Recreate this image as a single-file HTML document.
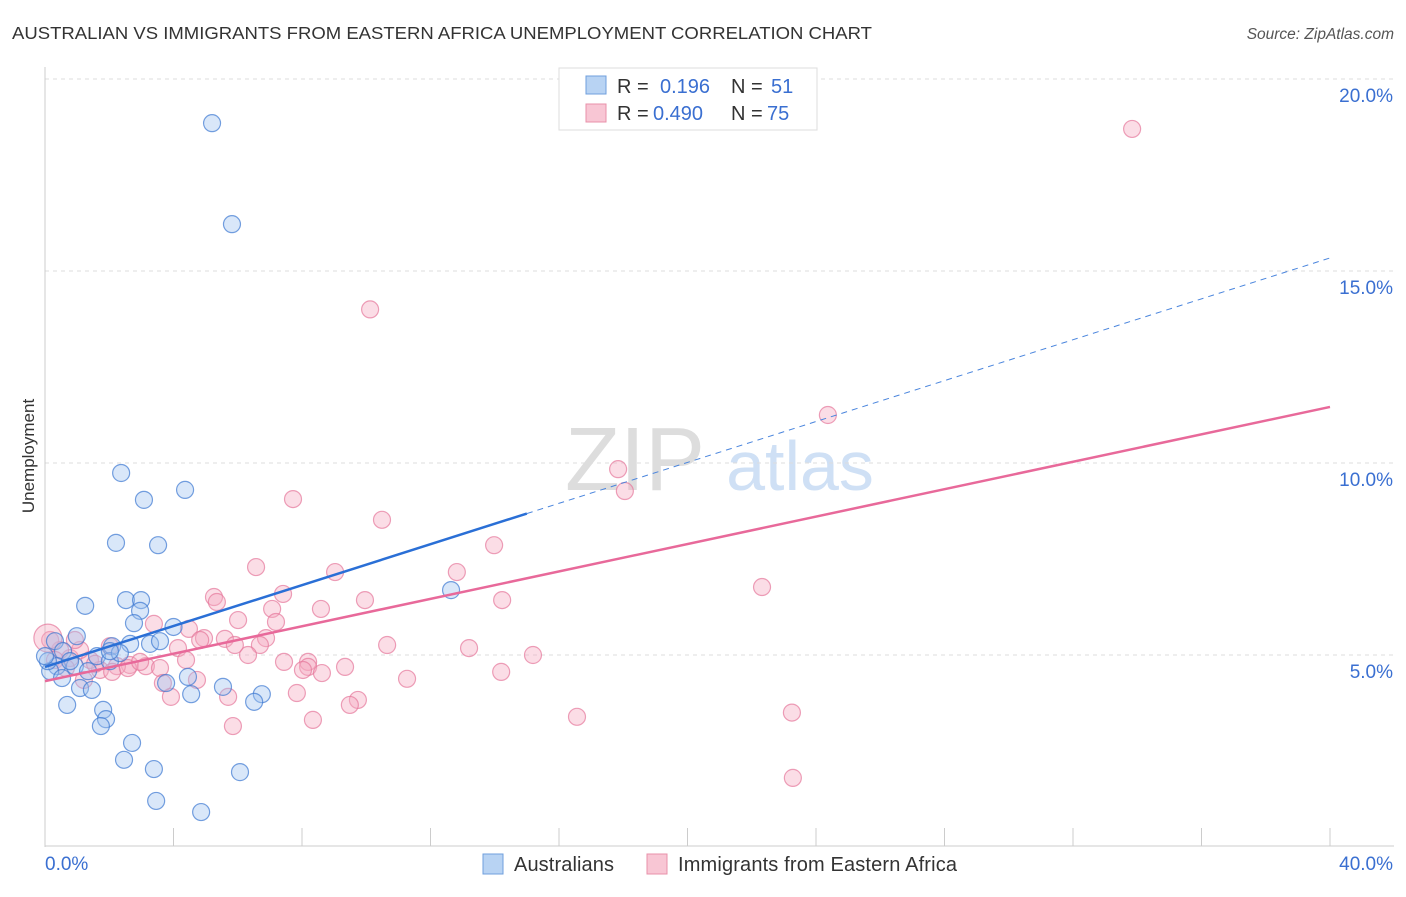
<!DOCTYPE html>
<html><head><meta charset="utf-8"><style>
body{margin:0;background:#fff;font-family:"Liberation Sans",sans-serif;}
svg text{font-family:"Liberation Sans",sans-serif;}
</style></head><body>
<svg id="c" width="1406" height="892">
<text x="12" y="39" font-size="17.5" fill="#333" textLength="860" lengthAdjust="spacingAndGlyphs">AUSTRALIAN VS IMMIGRANTS FROM EASTERN AFRICA UNEMPLOYMENT CORRELATION CHART</text>
<text x="1394" y="39" font-size="15.5" fill="#555" font-style="italic" text-anchor="end">Source: ZipAtlas.com</text>
<text x="34" y="456" font-size="17" fill="#333" transform="rotate(-90 34 456)" text-anchor="middle">Unemployment</text>
<text x="635" y="490" font-size="90" fill="#ddd" font-family="Liberation Serif" text-anchor="middle">ZIP</text>
<text x="800" y="490" font-size="70" fill="#cfe0f5" text-anchor="middle">atlas</text>
<g id="grid"></g><g id="pts"></g><g id="lines"></g>
<g>
<rect x="559" y="68" width="258" height="62" fill="#fff" stroke="#ddd"/>
<rect x="586" y="76" width="20" height="18" fill="#b8d3f3" stroke="#6f9fdc"/>
<text x="617" y="93" font-size="20" fill="#333">R = </text><text x="660" y="93" font-size="20" fill="#3a6fd1">0.196</text>
<text x="731" y="93" font-size="20" fill="#333">N = </text><text x="771" y="93" font-size="20" fill="#3a6fd1">51</text>
<rect x="586" y="104" width="20" height="18" fill="#f8c6d4" stroke="#e890aa"/>
<text x="617" y="120" font-size="20" fill="#333">R = </text><text x="653" y="120" font-size="20" fill="#3a6fd1">0.490</text>
<text x="731" y="120" font-size="20" fill="#333">N = </text><text x="767" y="120" font-size="20" fill="#3a6fd1">75</text>
</g>
<g>
<rect x="483" y="854" width="20" height="20" fill="#b8d3f3" stroke="#6f9fdc"/>
<text x="514" y="871" font-size="20" fill="#333" textLength="100">Australians</text>
<rect x="647" y="854" width="20" height="20" fill="#f8c6d4" stroke="#e890aa"/>
<text x="678" y="871" font-size="20" fill="#333" textLength="279">Immigrants from Eastern Africa</text>
</g>
</svg>
<script>
const yTicks=[5,10,15,20];
const xTickLabels=["0.0%","40.0%"];
const blueX=[5.2,5.82,2.37,4.36,3.08,2.21,3.52,12.64,2.52,2.99,1.25,2.96,2.77,4.0,3.27,2.65,2.09,0.99,0.31,0.56,1.62,2.02,2.33,4.45,0.37,0.16,0.93,1.34,0.53,3.77,1.09,1.46,5.54,4.55,6.75,6.51,0.69,1.81,1.9,1.74,2.71,2.46,3.39,6.07,3.46,4.86,0.09,0,0.78,3.58,2.02];
const blueY=[18.85,16.22,9.74,9.3,9.04,7.92,7.86,6.69,6.43,6.43,6.28,6.15,5.83,5.73,5.29,5.29,5.23,5.49,5.36,5.1,4.97,4.84,5.05,4.43,4.71,4.58,4.71,4.58,4.4,4.27,4.14,4.09,4.17,3.98,3.98,3.78,3.7,3.57,3.33,3.15,2.71,2.27,2.03,1.95,1.2,0.91,4.84,4.97,4.84,5.36,5.1];
const pinkX=[33.84,10.12,24.37,17.84,18.05,7.72,10.49,13.98,6.57,9.03,12.82,7.41,5.26,5.35,14.23,9.96,8.59,7.07,6.01,7.19,3.39,4.48,15.19,4.95,5.6,6.88,10.65,6.69,4.14,13.2,6.32,4.39,7.44,8.19,9.34,8.19,8.03,8.62,14.2,2.64,3.14,3.58,2.24,1.71,1.4,0.78,0.47,0.16,11.27,4.73,3.67,3.92,5.7,7.84,9.74,9.49,8.34,5.85,16.56,23.25,23.28,22.32,2.09,2.58,2.96,1.09,2.02,4.83,5.91,0.31,0.65,1.21,1.56,0.93,0.09];
const pinkY=[18.7,14.0,11.25,9.84,9.27,9.06,8.52,7.86,7.29,7.16,7.16,6.59,6.51,6.38,6.43,6.43,6.2,6.2,5.91,5.86,5.81,5.68,5.0,5.44,5.42,5.44,5.26,5.26,5.18,5.18,5.0,4.87,4.82,4.82,4.69,4.69,4.61,4.53,4.56,4.74,4.71,4.66,4.71,4.61,4.87,4.92,5.13,5.39,4.38,4.35,4.27,3.91,3.91,4.01,3.83,3.7,3.31,3.15,3.39,3.5,1.8,6.77,4.56,4.66,4.82,5.13,5.23,5.39,5.26,4.87,4.66,4.35,4.77,5.39,5.44];
const blueTrend=[4.69,15.34], blueSolidEnd=15.0;
const pinkTrend=[4.32,11.46];
const X=v=>45+v*32.125, Y=v=>847-v*38.4;
const ns="http://www.w3.org/2000/svg";
function mk(p,t,a){const e=document.createElementNS(ns,t);for(const k in a)e.setAttribute(k,a[k]);p.appendChild(e);return e;}
const g=document.getElementById('grid');
yTicks.forEach(t=>{
 const l=mk(g,'line',{x1:45,x2:1394,y1:Y(t),y2:Y(t),stroke:'#ddd','stroke-dasharray':'4,4'});
 
 
 const tx=mk(g,'text',{x:1393,y:Y(t)+23,'font-size':19,fill:'#3a6fd1','text-anchor':'end'});tx.textContent=t.toFixed(1)+'%';
 
 
});
const ax=mk(g,'line',{x1:45,x2:45,y1:67,y2:847,stroke:'#ccc'});


const bx=mk(g,'line',{x1:45,x2:1394,y1:846,y2:846,stroke:'#ccc'});


for(let i=0;i<=10;i++){const t=mk(g,'line',{x1:X(i*4),x2:X(i*4),y1:828,y2:846,stroke:'#ccc'});
 
 }
xTickLabels.forEach((s,i)=>{const t=mk(g,'text',{x:i?1393:45,y:870,'font-size':19,fill:'#3a6fd1','text-anchor':i?'end':'start'});t.textContent=s;
 
 });
const P=document.getElementById('pts');
pinkX.forEach((x,i)=>{const c=mk(P,'circle',{cx:X(x),cy:Y(pinkY[i]),r:i==pinkX.length-1?14:8.5,fill:'rgba(245,170,192,0.4)',stroke:'rgba(230,120,155,0.7)','stroke-width':1.2});
 
 });
blueX.forEach((x,i)=>{const c=mk(P,'circle',{cx:X(x),cy:Y(blueY[i]),r:8.5,fill:'rgba(160,195,240,0.4)',stroke:'rgba(60,120,210,0.7)','stroke-width':1.2});
 
 });
const L=document.getElementById('lines');
const by=x=>blueTrend[0]+(blueTrend[1]-blueTrend[0])*x/40;
const b1=mk(L,'line',{x1:X(0),y1:Y(by(0)),x2:X(blueSolidEnd),y2:Y(by(blueSolidEnd)),stroke:'#2a6fd6','stroke-width':2.5});


const b2=mk(L,'line',{x1:X(blueSolidEnd),y1:Y(by(blueSolidEnd)),x2:X(40),y2:Y(by(40)),stroke:'#4a85dd','stroke-width':1,'stroke-dasharray':'6,5'});


const p1=mk(L,'line',{x1:X(0),y1:Y(pinkTrend[0]),x2:X(40),y2:Y(pinkTrend[1]),stroke:'#e8699a','stroke-width':2.5});


</script>
</body></html>
